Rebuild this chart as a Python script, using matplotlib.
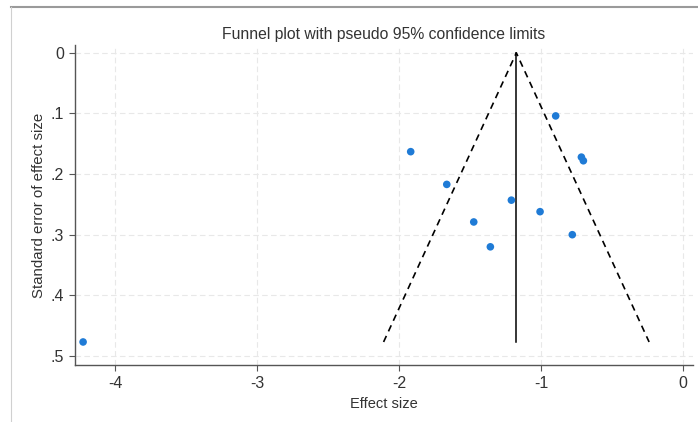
import matplotlib
matplotlib.use("Agg")
import matplotlib.pyplot as plt
from matplotlib.lines import Line2D

# study estimates
effect = [-4.225, -0.897, -1.918, -1.664, -0.716, -0.702, -1.209, -1.007, -1.474, -0.780, -1.357]
se = [0.477, 0.104, 0.163, 0.217, 0.172, 0.178, 0.243, 0.262, 0.279, 0.300, 0.320]

pooled = -1.174     # summary effect (vertical line)
se_max = 0.477      # funnel drawn down to largest se
z95 = 1.96

xticks = [-4, -3, -2, -1, 0]
xticklabels = ["-4", "-3", "-2", "-1", "0"]
yticks = [0, 0.1, 0.2, 0.3, 0.4, 0.5]
yticklabels = ["0", ".1", ".2", ".3", ".4", ".5"]

plt.rcParams['font.family'] = ['Liberation Sans', 'DejaVu Sans']

fig = plt.figure(figsize=(6.98, 4.22), dpi=100)
ax = fig.add_axes([75/698, 57/422, 618/698, 320/422])

# screenshot frame lines
fig.add_artist(Line2D([11/698, 1], [1-7/422, 1-7/422], transform=fig.transFigure, color='#9a9a9a', lw=1.5))
fig.add_artist(Line2D([11/698, 11/698], [0, 1-7/422], transform=fig.transFigure, color='#d0d0d0', lw=0.8))

# funnel
ax.plot([pooled - z95*se_max, pooled, pooled + z95*se_max], [se_max, 0, se_max],
        color='black', linestyle=(0, (4, 3)), lw=1.2)
ax.plot([pooled, pooled], [0, se_max], color='black', lw=1.1)

ax.scatter(effect, se, s=30, color='#1f7bd6', zorder=3, edgecolors='none')

ax.set_xlim(-4.282, 0.07)
ax.set_ylim(0.515, -0.013)
ax.set_xticks(xticks)
ax.set_xticklabels(xticklabels)
ax.set_yticks(yticks)
ax.set_yticklabels(yticklabels)
ax.grid(True, color='#e8e8e8', linestyle=(0, (5, 3)), lw=0.8)
ax.set_axisbelow(True)

for s in ['top', 'right']:
    ax.spines[s].set_visible(False)
for s in ['left', 'bottom']:
    ax.spines[s].set_color('#555555')
    ax.spines[s].set_linewidth(1.0)
ax.tick_params(length=4, color='#555555', labelsize=11.5, labelcolor='#333333', pad=4)

ax.set_xlabel("Effect size", fontsize=10.5, color='#333333', labelpad=4)
ax.set_ylabel("Standard error of effect size", fontsize=10.8, color='#333333', labelpad=3)
ax.set_title("Funnel plot with pseudo 95% confidence limits", fontsize=11.3, color='#333333', pad=4)

fig.savefig("out.png", dpi=100)
